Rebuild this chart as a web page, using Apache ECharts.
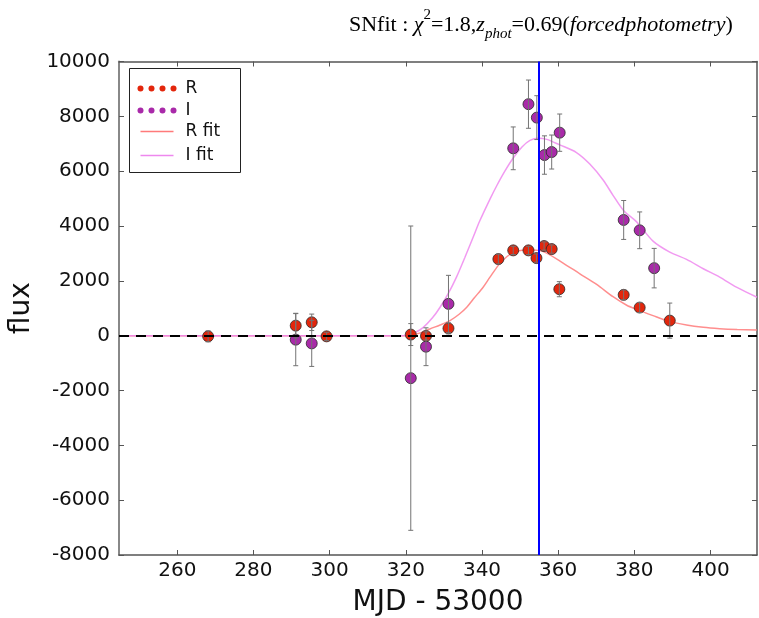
<!DOCTYPE html>
<html><head><meta charset="utf-8">
<script src="https://cdn.jsdelivr.net/npm/echarts@6/dist/echarts.min.js"></script>
<style>html,body{margin:0;padding:0;background:#fff}#c{width:759px;height:618px}</style>
</head><body><div id="c"></div>
<script>
// ---- data ----
const xTicks = [260, 280, 300, 320, 340, 360, 380, 400];
const yTicks = [-8000, -6000, -4000, -2000, 0, 2000, 4000, 6000, 8000, 10000];

const rMJD  = [268.1, 291.1, 295.3, 299.2, 321.3, 325.3, 331.2, 344.3, 348.2, 352.2, 354.3, 356.3, 358.3, 360.3, 377.2, 381.4, 389.3];
const rFlux = [-25, 366, 487, -25, 40, -11, 267, 2793, 3111, 3111, 2830, 3269, 3159, 1695, 1489, 1025, 549];
const rErr  = [200, 450, 300, 150, 400, 150, 200, 180, 150, 150, 150, 150, 150, 275, 180, 180, 640];

const iMJD  = [291.1, 295.3, 321.3, 325.3, 331.2, 348.2, 352.2, 354.4, 356.4, 358.3, 360.4, 377.2, 381.4, 385.2];
const iFlux = [-146, -282, -1550, -403, 1160, 6833, 8444, 7953, 6588, 6698, 7404, 4220, 3843, 2463];
const iErr  = [950, 840, 5550, 690, 1040, 780, 880, 800, 700, 620, 680, 710, 670, 720];

const rFitMJD  = [244.7, 320, 322, 324, 326.3, 329, 331.6, 334, 336, 338, 340.3, 342.1, 344.5, 346.5, 348.2, 351.7, 354.8, 357, 361.3, 365.7, 370.1, 374.4, 378, 380.6, 384.9, 388.5, 393.7, 398.1, 402.4, 407, 412.2];
const rFitFlux = [0, 0, 30, 110, 245, 390, 549, 780, 1036, 1380, 1768, 2134, 2600, 2880, 3030, 3130, 3111, 3013, 2650, 2258, 1870, 1420, 1110, 960, 732, 549, 390, 304, 256, 225, 205];

const iFitMJD  = [244.7, 318, 320.3, 322.5, 324.6, 327, 329, 331.2, 333.3, 335.5, 337.7, 339.4, 342.1, 343.8, 346, 348.2, 350.5, 352.6, 354.8, 357, 360.4, 364.8, 368.3, 371.8, 374.4, 377.2, 380.6, 384.9, 389.3, 393.7, 398.1, 402.4, 406.8, 412.2];
const iFitFlux = [0, 0, 20, 120, 304, 650, 1036, 1550, 2134, 2850, 3598, 4180, 4980, 5450, 6000, 6480, 6880, 7120, 7200, 7160, 6960, 6680, 6260, 5680, 5120, 4560, 4150, 3450, 3049, 2782, 2441, 2134, 1768, 1400];

const peakMJD = 355.0;
const zeroFlux = 0;
const xMin = 244.7, xMax = 412.2, yMin = -8000, yMax = 10000;

// ---- colours ----
const RED = '#e3260c', PURPLE = '#a92aa9', RFIT = '#ff7a7a', IFIT = '#ee88ee';
const AX = '#555';

const chart = echarts.init(document.getElementById('c'));
const pairs = (xs, ys) => xs.map((x, i) => [x, ys[i]]);

function errSeries(xs, ys, es) {
  return {
    type: 'custom', z: 4, silent: true,
    data: xs.map((x, i) => [x, ys[i] - es[i], ys[i] + es[i]]),
    encode: { x: 0, y: [1, 2] },
    renderItem(params, api) {
      const lo = api.coord([api.value(0), api.value(1)]);
      const hi = api.coord([api.value(0), api.value(2)]);
      const c = 2.5, st = { stroke: '#737373', lineWidth: 1 };
      return { type: 'group', children: [
        { type: 'line', shape: { x1: lo[0], y1: lo[1], x2: hi[0], y2: hi[1] }, style: st },
        { type: 'line', shape: { x1: lo[0] - c, y1: lo[1], x2: lo[0] + c, y2: lo[1] }, style: st },
        { type: 'line', shape: { x1: hi[0] - c, y1: hi[1], x2: hi[0] + c, y2: hi[1] }, style: st }
      ]};
    }
  };
}

const font = 'DejaVu Sans';
const serif = 'Liberation Serif';
const rs = (extra) => Object.assign({ fontFamily: serif, fontSize: 22, fontWeight: 'normal', color: '#000', lineHeight: 34, verticalAlign: 'middle' }, extra || {});

const option = {
  animation: false,
  backgroundColor: '#fff',
  title: {
    left: 344, top: 3,
    text: '{a|SNfit : }{b|χ}{sup|2}{a|=1.8,}{b|z}{sub|phot}{a|=0.69(}{b|forcedphotometry}{a|)}',
    textStyle: {
      fontWeight: 'normal',
      rich: {
        a: rs(),
        b: rs({ fontStyle: 'italic' }),
        sup: rs({ fontSize: 15, lineHeight: 29, verticalAlign: 'top' }),
        sub: rs({ fontSize: 15, lineHeight: 17, verticalAlign: 'bottom', fontStyle: 'italic' })
      }
    }
  },
  grid: { left: 119, right: 2, top: 61.5, bottom: 63, containLabel: false, outerBoundsMode: 'none' },
  xAxis: [{
    type: 'value', min: xMin, max: xMax, position: 'bottom',
    axisLine: { show: true, onZero: false, lineStyle: { color: AX, width: 1.5 } },
    axisTick: { show: true, inside: true, length: 5, customValues: xTicks, lineStyle: { color: AX } },
    axisLabel: { customValues: xTicks, fontFamily: font, fontSize: 20, color: '#111', margin: 6 },
    splitLine: { show: false },
    name: 'MJD - 53000', nameLocation: 'middle', nameGap: 34,
    nameTextStyle: { fontFamily: font, fontSize: 28, color: '#111' }
  }, {
    type: 'value', min: xMin, max: xMax, position: 'top',
    axisLine: { show: true, onZero: false, lineStyle: { color: AX, width: 1.5 } },
    axisTick: { show: true, inside: true, length: 5, customValues: xTicks, lineStyle: { color: AX } },
    axisLabel: { show: false }, splitLine: { show: false }
  }],
  yAxis: [{
    type: 'value', min: yMin, max: yMax, interval: 2000, position: 'left',
    axisLine: { show: true, onZero: false, lineStyle: { color: '#888', width: 2 } },
    axisTick: { show: true, inside: true, length: 5, lineStyle: { color: AX } },
    axisLabel: { fontFamily: font, fontSize: 20, color: '#111', margin: 9, formatter: v => String(v) },
    splitLine: { show: false },
    name: 'flux', nameLocation: 'middle', nameGap: 58, nameRotate: 90,
    nameTextStyle: { fontFamily: font, fontSize: 28, color: '#111' }
  }, {
    type: 'value', min: yMin, max: yMax, interval: 2000, position: 'right',
    axisLine: { show: true, onZero: false, lineStyle: { color: AX, width: 1.5 } },
    axisTick: { show: true, inside: true, length: 5, lineStyle: { color: AX } },
    axisLabel: { show: false }, splitLine: { show: false }
  }],
  graphic: [{
    type: 'group', left: 129, top: 68, z: 100,
    children: [
      { type: 'rect', shape: { x: 0, y: 0, width: 111, height: 104 }, style: { fill: '#fff', stroke: '#222', lineWidth: 1 } },
      ...[11, 22, 33, 44].map(x => ({ type: 'circle', shape: { cx: x, cy: 20, r: 3 }, style: { fill: RED } })),
      ...[11, 22, 33, 44].map(x => ({ type: 'circle', shape: { cx: x, cy: 42, r: 3 }, style: { fill: PURPLE } })),
      { type: 'line', shape: { x1: 11, y1: 63, x2: 44, y2: 63 }, style: { stroke: RFIT, lineWidth: 1.5 } },
      { type: 'line', shape: { x1: 11, y1: 87, x2: 44, y2: 87 }, style: { stroke: IFIT, lineWidth: 1.5 } },
      { type: 'text', x: 56, y: 20, style: { text: 'R', font: '17px "DejaVu Sans"', fill: '#111', verticalAlign: 'middle' } },
      { type: 'text', x: 56, y: 42, style: { text: 'I', font: '17px "DejaVu Sans"', fill: '#111', verticalAlign: 'middle' } },
      { type: 'text', x: 56, y: 63, style: { text: 'R fit', font: '17px "DejaVu Sans"', fill: '#111', verticalAlign: 'middle' } },
      { type: 'text', x: 56, y: 87, style: { text: 'I fit', font: '17px "DejaVu Sans"', fill: '#111', verticalAlign: 'middle' } }
    ]
  }],
  series: [
    { name: 'zero', type: 'line', data: [], z: 1,
      markLine: { silent: true, symbol: 'none', label: { show: false },
        lineStyle: { color: '#000', width: 2, type: [10, 7] }, data: [{ yAxis: zeroFlux }] } },
    { name: 'R fit', type: 'line', data: pairs(rFitMJD, rFitFlux), showSymbol: false, z: 2, smooth: 0.3,
      lineStyle: { color: RFIT, width: 1.5, opacity: 0.85 } },
    { name: 'I fit', type: 'line', data: pairs(iFitMJD, iFitFlux), showSymbol: false, z: 2, smooth: 0.3,
      lineStyle: { color: IFIT, width: 1.5, opacity: 0.85 } },
    { name: 'R', type: 'scatter', data: pairs(rMJD, rFlux), symbolSize: 11, z: 3,
      itemStyle: { color: RED, borderColor: '#2a2a2a', borderWidth: 0.8, opacity: 1 } },
    { name: 'I', type: 'scatter', data: pairs(iMJD, iFlux), symbolSize: 11, z: 3,
      itemStyle: { color: PURPLE, borderColor: '#2a2a2a', borderWidth: 0.8, opacity: 1 } },
    errSeries(rMJD, rFlux, rErr),
    errSeries(iMJD, iFlux, iErr),
    { name: 'peak', type: 'line', data: [], z: 10,
      markLine: { silent: true, symbol: 'none', label: { show: false },
        lineStyle: { color: '#0000ff', width: 2, type: 'solid' }, data: [{ xAxis: peakMJD }] } }
  ]
};
chart.setOption(option);
</script>
</body></html>
